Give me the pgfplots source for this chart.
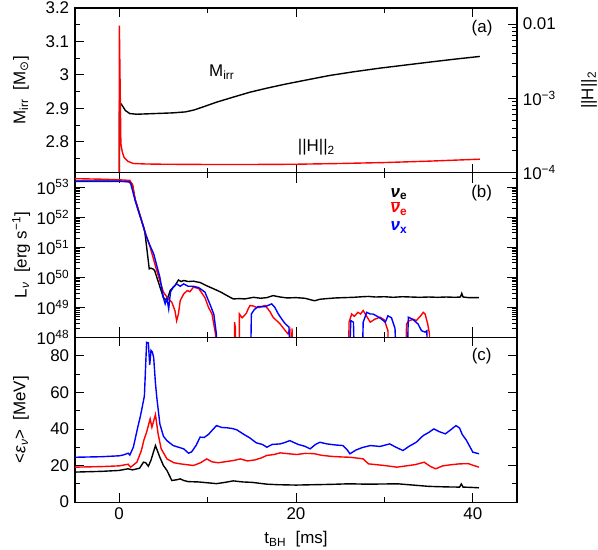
\documentclass[border=0pt]{standalone}
\usepackage{fontspec}
\setmainfont{Liberation Sans}
\newfontfamily\dejavu{DejaVu Sans}
\usepackage{pgfplots}
\pgfplotsset{compat=1.18}

\newcommand\bigfont{\fontsize{17}{20}\selectfont}
\pgfplotsset{
  panel/.style={
    width=442bp, height=164.7bp, scale only axis,
    xmin=-5, xmax=45,
    xtick={0,20,40}, minor xtick={10,30},
    tick align=inside,
    major tick length=9bp, minor tick length=5bp,
    every tick/.style={black, line width=0.8pt},
    axis line style={line width=1.1pt},
    tick label style={font=\bigfont},
    label style={font=\bigfont},
    /pgf/number format/assume math mode=true,
    ylabel style={at={(axis description cs:-0.122,0.5)}, anchor=center},
    every axis plot/.append style={line width=1.4pt},
  },
}

\begin{document}
\bigfont
\begin{tikzpicture}[every node/.append style={font=\bigfont}]
% (a) irreducible mass
\begin{axis}[panel, name=a,
    ymin=2.707, ymax=3.2,
    ytick={2.8,2.9,3,3.1,3.2}, minor ytick={2.75,2.85,2.95,3.05,3.15},
    ytick pos=left, xticklabels={},
    ylabel={M\textsubscript{irr}\ \ [M\textsubscript{\dejavu ⊙}]}]
\addplot[black] coordinates {
 (0,2.5) (0.03,2.918) (0.3,2.91) (0.7,2.893) (1.2,2.884) (2,2.882) (4,2.884)
 (6,2.886) (7.5,2.889) (8.5,2.895) (9.5,2.904) (11,2.918) (13,2.934)
 (14.8,2.948) (16.7,2.960) (18.6,2.971) (20.5,2.981) (23.8,2.998)
 (26.5,3.009) (29.5,3.020) (32.3,3.029) (35.1,3.038) (38,3.047) (40.8,3.055)};
\node at (axis cs:11.6,3.008) {M\textsubscript{irr}};
\node at (axis cs:22.3,2.782) {\textbar\textbar H\textbar\textbar\textsubscript{2}};
\node at (rel axis cs:0.921,0.875) {(a)};
\end{axis}
% (a) constraint violation, right axis
\begin{axis}[panel,
    ymode=log, ymin=1e-4, ymax=1.644e-2,
    axis x line=none, axis y line*=right,
    ytick={1e-4,1e-3,1e-2},
    yticklabels={10\textsuperscript{−4},10\textsuperscript{−3},0.01},
    minor ytick={2e-4,3e-4,4e-4,5e-4,6e-4,7e-4,8e-4,9e-4,
                 2e-3,3e-3,4e-3,5e-3,6e-3,7e-3,8e-3,9e-3},
    ylabel={\textbar\textbar H\textbar\textbar\textsubscript{2}},
    ylabel style={at={(axis description cs:1.163,0.5)}, anchor=center}]
\addplot[red] coordinates {
 (0,1e-6) (0.02,9.5e-3) (0.19,2.45e-4) (0.35,1.9e-4) (0.56,1.6e-4)
 (1.0,1.42e-4) (1.6,1.33e-4) (3,1.31e-4) (5,1.30e-4) (10,1.29e-4)
 (15,1.29e-4) (20,1.30e-4) (25,1.33e-4) (30,1.37e-4) (35,1.43e-4) (40.8,1.52e-4)};
\end{axis}
% (b) luminosities
\begin{axis}[panel, name=b, at={(a.south west)}, anchor=north west,
    ymode=log, ymin=1e48, ymax=3e53,
    ytick={1e48,1e49,1e50,1e51,1e52,1e53},
    yticklabels={10\textsuperscript{48},10\textsuperscript{49},10\textsuperscript{50},
                 10\textsuperscript{51},10\textsuperscript{52},10\textsuperscript{53}},
    minor ytick={2e48,3e48,4e48,5e48,6e48,7e48,8e48,9e48,
                 2e49,3e49,4e49,5e49,6e49,7e49,8e49,9e49,
                 2e50,3e50,4e50,5e50,6e50,7e50,8e50,9e50,
                 2e51,3e51,4e51,5e51,6e51,7e51,8e51,9e51,
                 2e52,3e52,4e52,5e52,6e52,7e52,8e52,9e52,2e53},
    major tick length=10bp,
    xticklabels={},
    ylabel={L\textsubscript{\textit{ν}}\ \ [erg s\textsuperscript{−1}]}]
\addplot[black] coordinates {
 (-5,1.58e53) (0,1.58e53) (1.2,1.5e53) (1.5,1.2e53) (1.8,3.9e52) (2.3,1.3e52)
 (2.75,4.7e51) (2.9,3.2e51) (3.4,1.9e50) (3.6,2.0e50) (3.8,1.9e50) (4.0,1.7e50)
 (4.5,6.0e49) (5.0,2.1e49) (5.4,1.66e49) (5.76,3.6e49) (6.3,5.2e49) (6.7,8.1e49)
 (7.0,7.2e49) (7.3,7.8e49) (7.8,7.2e49) (8.4,7.4e49) (9.2,6.6e49) (9.9,5.2e49)
 (10.7,4.1e49) (11.5,3.2e49) (12.2,2.45e49) (12.9,1.9e49) (13.6,1.95e49)
 (14.2,1.9e49) (15.2,2.15e49) (16,2.0e49) (16.7,2.1e49) (17.4,2.45e49)
 (18.2,2.2e49) (19,2.05e49) (20,2.1e49) (21,2.0e49) (21.6,1.8e49) (22.1,1.65e49)
 (22.7,1.85e49) (23.5,1.95e49) (24.5,2.05e49) (25.5,2.1e49) (26.5,2.15e49)
 (27.5,2.25e49) (28.2,2.3e49) (29,2.2e49) (30,2.25e49) (31,2.15e49) (32,2.25e49)
 (33,2.2e49) (34,2.15e49) (35,2.2e49) (36,2.15e49) (37,2.2e49) (38,2.15e49)
 (38.6,2.2e49) (38.75,2.9e49) (38.9,2.2e49) (39.5,2.1e49) (40.7,2.1e49)};
\addplot[red] coordinates {
 (-5,1.9e53) (-2,1.82e53) (0,1.74e53) (1.2,1.66e53) (1.5,1.2e53) (1.8,3.9e52)
 (2.3,1.3e52) (2.75,4.7e51) (3.5,1.0e51) (4.25,1.66e50) (5.0,3.2e49)
 (5.55,1.9e49) (5.95,1.48e49) (6.3,7.8e48) (6.5,3.6e48) (6.7,6e48) (6.9,1.66e49)
 (7.3,2.8e49) (7.7,3.6e49) (8.0,3.3e49) (8.4,4.7e49) (9.0,4.2e49) (9.7,2.1e49)
 (10.1,1.0e49) (10.5,6.0e48) (10.9,1.26e48) (11.1,1e46) (13.0,1e46)
 (13.05,3.2e48) (13.15,2.0e48) (13.25,1e46) (13.55,1e46) (13.6,6e48)
 (13.9,4.5e48) (14.2,5.5e48) (14.4,6.5e48) (14.6,9e48) (14.8,1.15e49)
 (15.2,1.1e49) (15.5,1.0e49) (15.9,1.0e49) (16.5,1.15e49) (16.8,9e48)
 (17.1,6.8e48) (17.4,4.7e48) (18.2,2.8e48) (18.8,1.66e48) (19.1,1.3e48)
 (19.3,1.8e48) (19.4,1e46) (19.55,2.0e48) (19.7,1e46) (25.9,1e46)
 (26.0,3.2e48) (26.3,6.0e48) (26.6,5e48) (27.0,6.8e48) (27.3,6.0e48)
 (27.6,7.8e48) (28.0,5e48) (28.4,3.2e48) (28.9,4e48) (29.5,4.7e48)
 (30.0,3.8e48) (30.4,1.66e48) (30.5,1e46) (32.4,1e46) (32.5,2.8e48)
 (32.8,3.6e48) (33.3,4.0e48) (33.6,3.6e48) (34.1,5.2e48) (34.4,6.8e48)
 (34.6,6e48) (34.9,2.8e48) (35.1,1.3e48) (35.2,1e46)};
\addplot[blue] coordinates {
 (-5,1.55e53) (0,1.55e53) (1.1,1.5e53) (1.3,1.3e53) (1.8,3.6e52) (2.3,1.2e52)
 (2.75,4.7e51) (3.0,2.5e51) (3.5,1.1e51) (3.9,6.0e50) (4.6,1.0e50) (5.0,2.1e49)
 (5.2,1.3e49) (5.4,2.0e49) (5.6,8.9e48) (5.8,3.2e49) (6.1,4.7e49) (6.5,6.0e49)
 (6.9,5.0e49) (7.3,6.0e49) (7.8,5.0e49) (8.4,5.0e49) (9.0,4.5e49) (9.7,3.2e49)
 (10.1,1.66e49) (10.7,6.0e48) (11.0,1.26e48) (11.1,1e46) (14.8,1e46)
 (14.95,6.0e48) (15.3,8.5e48) (15.7,1.05e49) (16.5,1.05e49) (17.25,1.3e49)
 (17.6,1.0e49) (18.0,6.0e48) (18.4,4e48) (18.8,2.8e48) (19.2,2.2e48)
 (19.5,1e46) (25.9,1e46) (26.2,3.6e48) (26.5,3.2e48) (26.7,1e46) (27.4,1e46)
 (27.6,3.2e48) (28.0,6.8e48) (28.4,6.0e48) (28.7,6.0e48) (29.2,5e48)
 (29.6,4.2e48) (30.1,3.2e48) (30.4,5.2e48) (30.8,4.5e48) (31.2,2e48)
 (31.5,1e46) (32.5,1e46) (32.7,4.7e48) (33.2,4.0e48) (33.8,2.8e48)
 (34.2,1.66e48) (34.6,1.5e48) (34.8,1.66e48) (35.0,1e46)};
\node[anchor=west] at (rel axis cs:0.701,0.871)
  {\bfseries\itshape ν\textsubscript{\upshape e}};
\node[anchor=west, red] at (rel axis cs:0.701,0.783)
  {$\overline{\hbox{\bfseries\itshape ν}}$\textsubscript{\bfseries e}};
\node[anchor=west, blue] at (rel axis cs:0.701,0.668)
  {\bfseries\itshape ν\textsubscript{\upshape x}};
\node at (rel axis cs:0.920,0.877) {(b)};
\end{axis}
% (c) mean energies
\begin{axis}[panel, name=c, at={(b.south west)}, anchor=north west,
    ymin=0, ymax=90,
    ytick={0,20,40,60,80}, minor ytick={10,30,50,70},
    xlabel={t\textsubscript{BH}\ \ [ms]},
    ylabel={<\textit{ε}\textsubscript{\textit{ν}}>\ \ [MeV]}]
\addplot[black] coordinates {
 (-5,16.4) (-2,16.8) (0,17.3) (1.0,18.2) (1.5,17.6) (2.3,18.5) (2.75,21.8)
 (3.0,21.5) (3.3,19.6) (3.6,23) (4.1,30.9) (4.6,24.5) (5.0,20) (5.4,17.3)
 (5.95,11.8) (6.5,12.2) (6.9,12.7) (7.3,11.8) (7.8,11.2) (9,11.0) (11,10.1)
 (12,10.8) (12.9,11.6) (14,11) (15,10.8) (16.7,9.8) (18,9.5) (20,9.3) (22,9.5)
 (24,9.7) (26,10) (28,9.8) (30,9.9) (31.5,10) (33,9.4) (35,8.6) (37,8.3)
 (38.5,8.2) (38.7,9.9) (38.9,8.2) (40,8.0) (40.7,7.8)};
\addplot[red] coordinates {
 (-5,19.1) (-2,19.4) (0,19.8) (1.0,20.7) (1.3,19.1) (2.0,21.8) (2.5,28)
 (2.8,34) (3.1,38.2) (3.5,45.5) (3.7,40.9) (4.1,47.8) (4.4,37.3) (4.75,29.1)
 (5.4,23.6) (6.2,21.5) (6.9,20.9) (8.4,20) (9.2,21.5) (9.9,23.6) (10.5,22)
 (11.2,21.5) (12.2,22.2) (13,22.8) (13.7,23.6) (14.5,22.5) (15.3,23) (16,24)
 (16.7,25.5) (17.5,26) (18.2,26.9) (19.0,26.5) (20.1,26) (21,26.6) (22,26.5)
 (23,25.5) (24,25) (25,24.7) (26.1,24.5) (27,24) (27.6,23.6) (28.2,20.9)
 (29,20.5) (30,20) (31.4,19.1) (32.5,19.8) (33.5,20.5) (34.5,21.8) (35.2,19.5)
 (35.8,18.2) (36.6,19.8) (37.5,20.4) (38.5,20.9) (39.5,21) (40.1,20) (40.7,19.1)};
\addplot[blue] coordinates {
 (-5,24.5) (-2,24.8) (0,25.3) (0.5,25.8) (1.0,26.7) (1.2,25.7) (1.6,30)
 (2.1,40.9) (2.4,47) (2.6,51.8) (2.85,58) (3.0,75.5) (3.1,87.3) (3.3,87)
 (3.45,75) (3.6,82.9) (3.75,82) (3.9,79) (4.1,65) (4.25,57.3) (4.6,42.7)
 (5.0,36) (5.4,33.6) (6.1,30.9) (7.3,29.1) (7.85,26.7) (8.2,27.5) (8.7,31)
 (9.15,35.5) (9.6,35.3) (10.1,37) (11.0,41.8) (11.6,40.8) (12.2,40.6)
 (12.8,40.2) (13.3,39.5) (14.0,37.3) (14.8,35) (15.5,32.4) (16.2,31.5)
 (16.7,30) (17.3,31.5) (18.2,31.8) (18.7,32.5) (19.3,33.6) (20.2,31.6)
 (21.0,30.5) (21.6,29.1) (22.2,31.5) (22.7,32.7) (23.5,31.8) (24.5,31.2)
 (25.3,30.9) (25.8,28.5) (26.1,26.4) (26.8,28.5) (27.5,29.8) (28.4,30.9)
 (29.5,30.4) (30.6,31.8) (31.3,30) (32.1,28.2) (32.8,30.5) (33.6,32.7)
 (34.4,36.4) (35.0,38) (35.6,40) (36.2,38.5) (36.9,37.3) (37.5,39.5)
 (38.1,41.8) (38.5,40.5) (38.8,37) (39.3,33.6) (40.0,27.3) (40.7,26.4)};
\node at (rel axis cs:0.920,0.886) {(c)};
\end{axis}
\pgfresetboundingbox
\path[use as bounding box] (a.north west) ++(-75bp,8bp) rectangle ++(598bp,-550bp);
\end{tikzpicture}
\end{document}
